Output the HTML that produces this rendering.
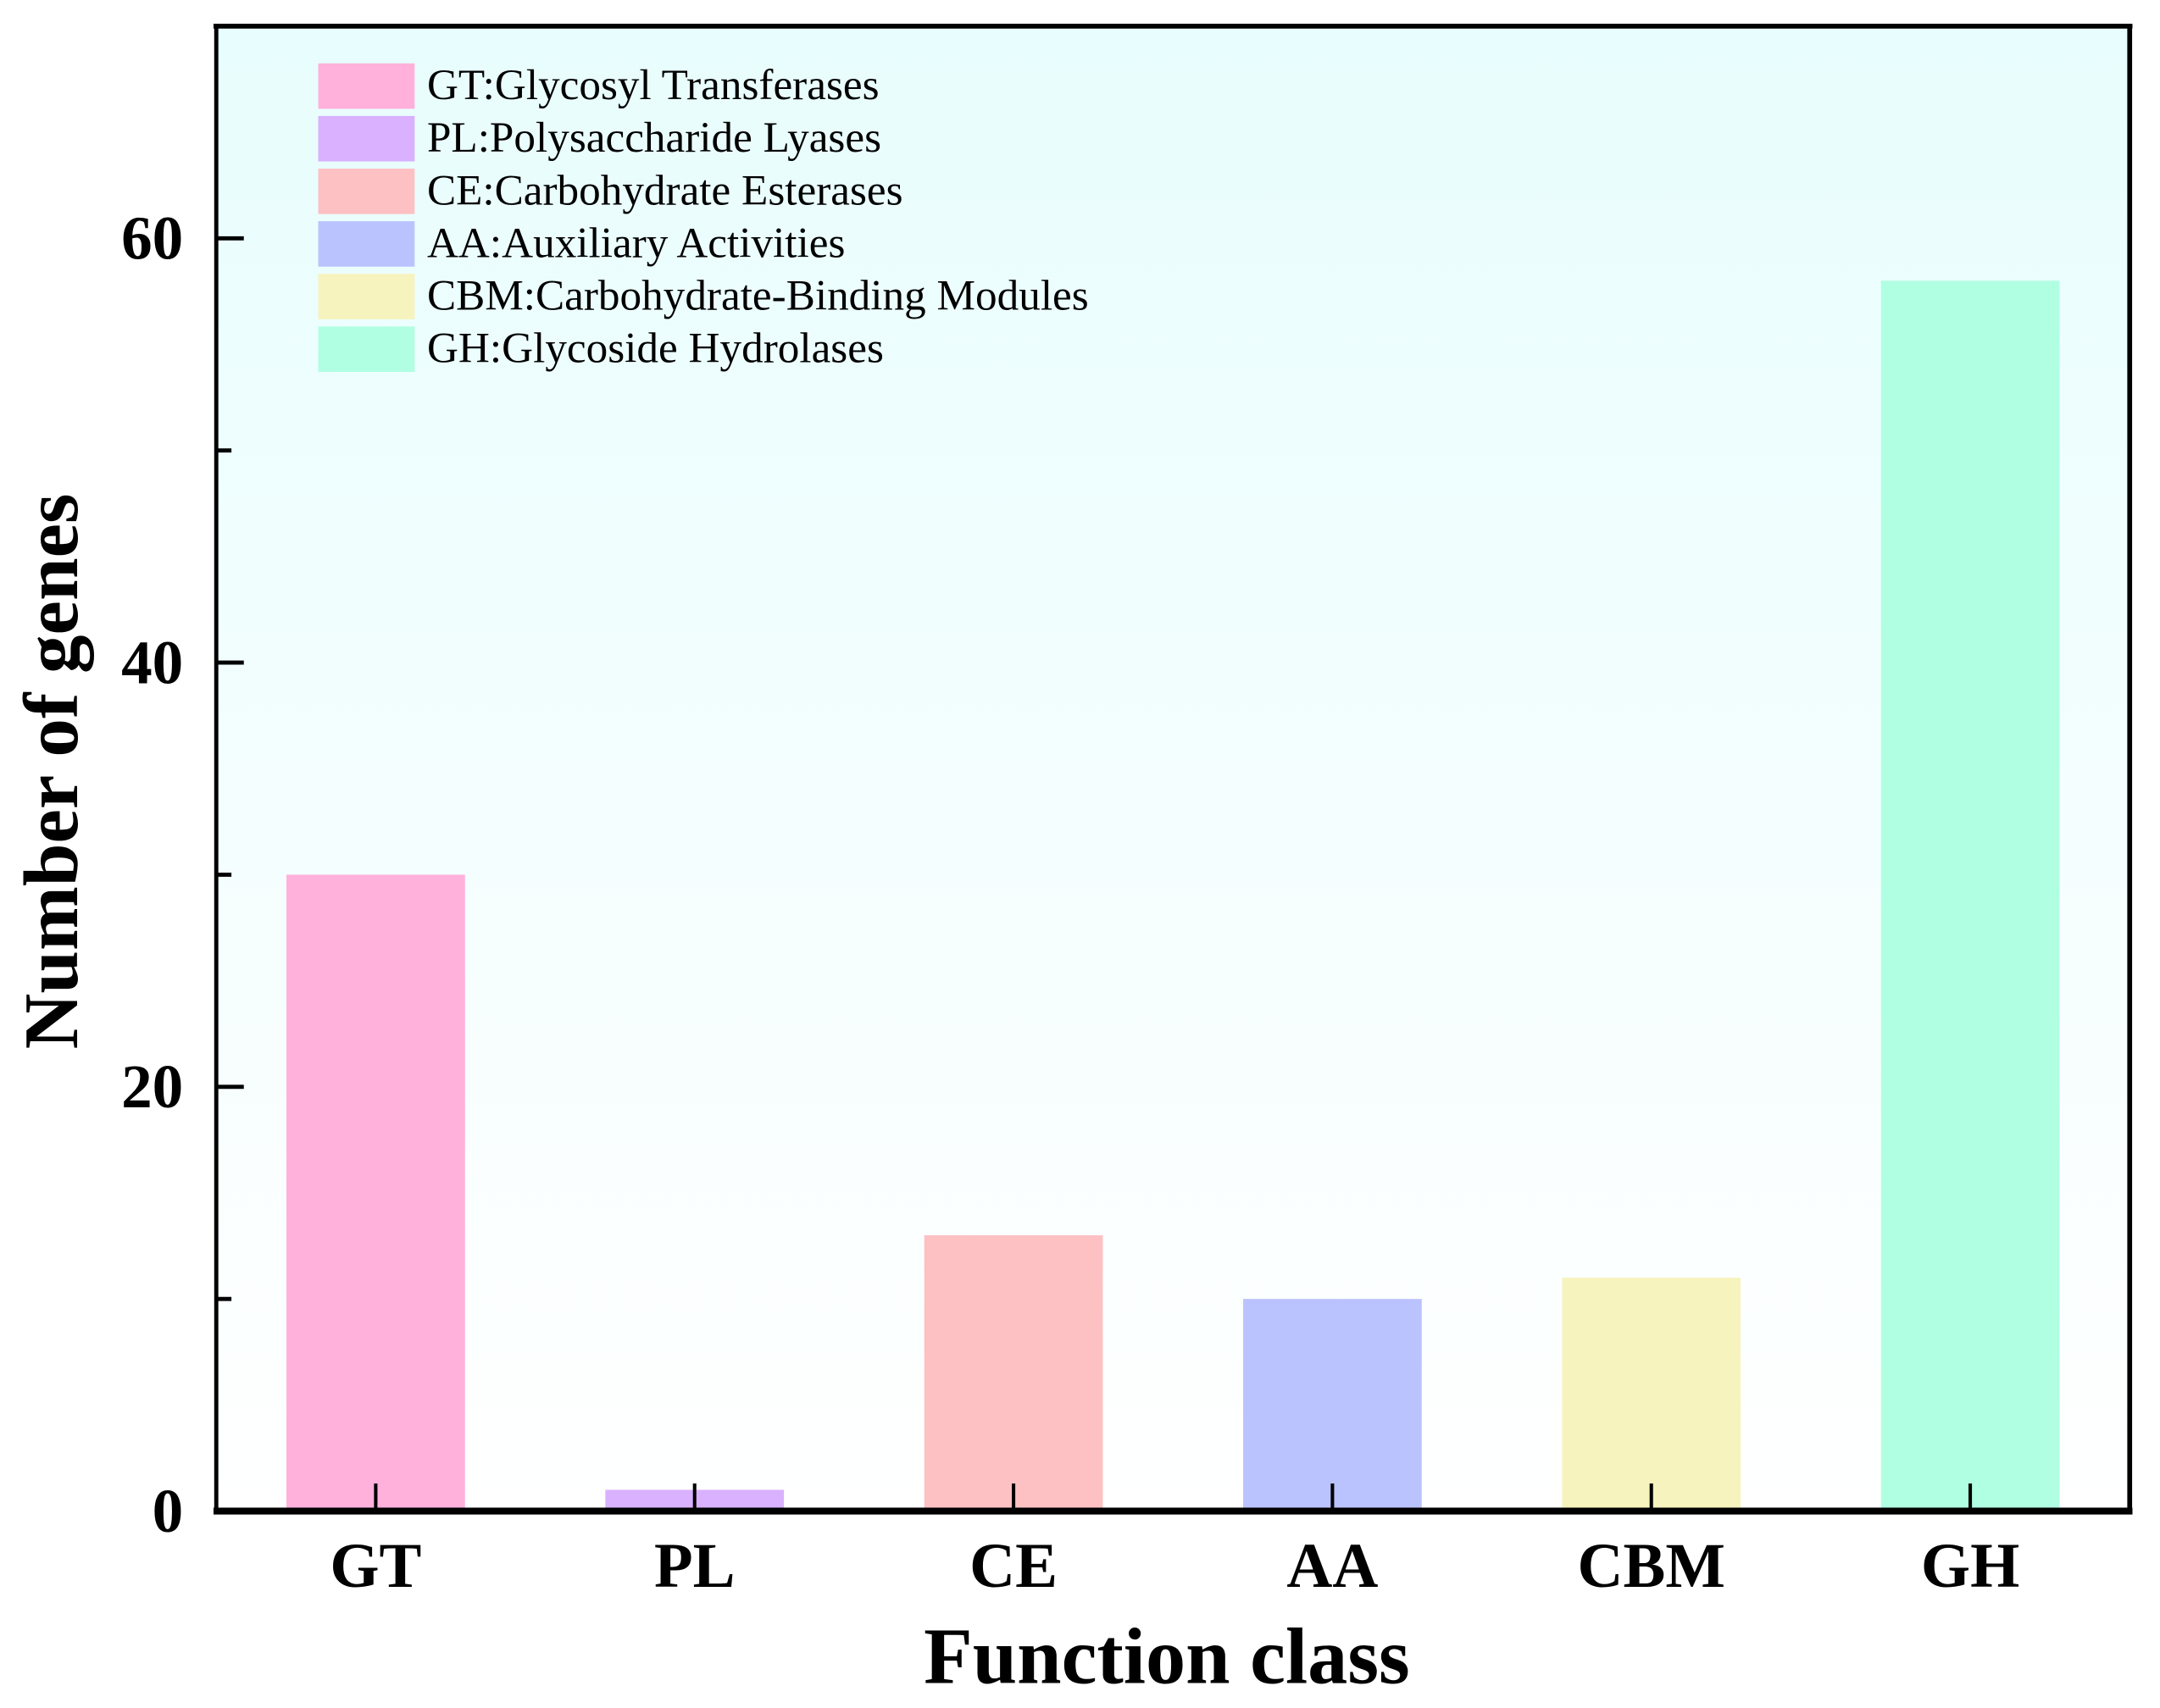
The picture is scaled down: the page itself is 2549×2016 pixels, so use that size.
<!DOCTYPE html>
<html><head><meta charset="utf-8"><style>
html,body{margin:0;padding:0;background:#fff;}
svg{display:block;}
text{font-family:"Liberation Serif",serif;}
</style></head><body>
<svg id="chart" width="2549" height="2016" viewBox="0 0 1568 1240" preserveAspectRatio="none" xmlns="http://www.w3.org/2000/svg">
<defs><linearGradient id="bg" x1="0" y1="0" x2="0" y2="1"><stop offset="0" stop-color="#e8fdfd"/><stop offset="1" stop-color="#ffffff"/></linearGradient></defs>
<rect x="157" y="19" width="1389" height="1078" fill="url(#bg)"/>
<g id="bars"></g>
<g id="ticks"></g>
<g id="legend"></g>
<line x1="155" y1="1097" x2="1548" y2="1097" stroke="#000" stroke-width="5"/>
<line x1="155" y1="19" x2="1548" y2="19" stroke="#000" stroke-width="3.5"/>
<line x1="157" y1="18" x2="157" y2="1099" stroke="#000" stroke-width="3"/>
<line x1="1546" y1="18" x2="1546" y2="1099" stroke="#000" stroke-width="3.5"/>
<text x="847" y="1222" font-size="58" font-weight="bold" text-anchor="middle">Function class</text>
<text transform="translate(56,560) rotate(-90)" font-size="56" font-weight="bold" text-anchor="middle">Number of genes</text>
</svg>
<script>
const categories = ["GT","PL","CE","AA","CBM","GH"];
const values = [30, 1, 13, 10, 11, 58];
const colors = ["#ffb1dc","#d9b1ff","#fdc1c3","#bbc3ff","#f6f3be","#b1ffe2"];
const legendLabels = ["GT:Glycosyl Transferases","PL:Polysaccharide Lyases","CE:Carbohydrate Esterases","AA:Auxiliary Activities","CBM:Carbohydrate-Binding Modules","GH:Glycoside Hydrolases"];
const yTicks = [0, 20, 40, 60];
const yMinorTicks = [10, 30, 50];

const NS = "http://www.w3.org/2000/svg";
const L = 157, R = 1546, T = 19, B = 1097, YMAX = 70;
function yScale(v){ return B - v * (B - T) / YMAX; }
const band = (R - L) / categories.length;
function xScale(i){ return L + band * (i + 0.5); }
function mk(tag, attrs, parent){ const e = document.createElementNS(NS, tag); for (const k in attrs) e.setAttribute(k, attrs[k]); parent.appendChild(e); return e; }

const gb = document.getElementById("bars");
const gt = document.getElementById("ticks");
const gl = document.getElementById("legend");
const bw = band * 0.56;
categories.forEach((c, i) => {
  const r = mk("rect", {x: xScale(i) - bw/2, y: yScale(values[i]), width: bw, height: B - yScale(values[i]), fill: colors[i]}, gb);
  
  
  const tk = mk("line", {x1: xScale(i), x2: xScale(i), y1: B, y2: B - 20, stroke: "#000", "stroke-width": 2.5}, gt);
  
  
  const t = mk("text", {x: xScale(i), y: 1152, "font-size": 46, "font-weight": "bold", "text-anchor": "middle"}, gt);
  t.textContent = c;
  
  
});
yTicks.forEach(v => {
  const l = mk("line", {x1: L, x2: L + 20, y1: yScale(v), y2: yScale(v), stroke: "#000", "stroke-width": 3}, gt);
  
  
  const t = mk("text", {x: 133, y: yScale(v) + 15, "font-size": 45, "font-weight": "bold", "text-anchor": "end"}, gt);
  t.textContent = v;
  
  
});
yMinorTicks.forEach(v => {
  const l = mk("line", {x1: L, x2: L + 11, y1: yScale(v), y2: yScale(v), stroke: "#000", "stroke-width": 3}, gt);
  
  
});
legendLabels.forEach((lab, i) => {
  const y = 46 + i * 38.2;
  const s = mk("rect", {x: 231, y: y, width: 70, height: 33, fill: colors[i]}, gl);
  
  
  const t = mk("text", {x: 310, y: y + 26, "font-size": 31.5}, gl);
  t.textContent = lab;
  
  
});
</script>
</body></html>
